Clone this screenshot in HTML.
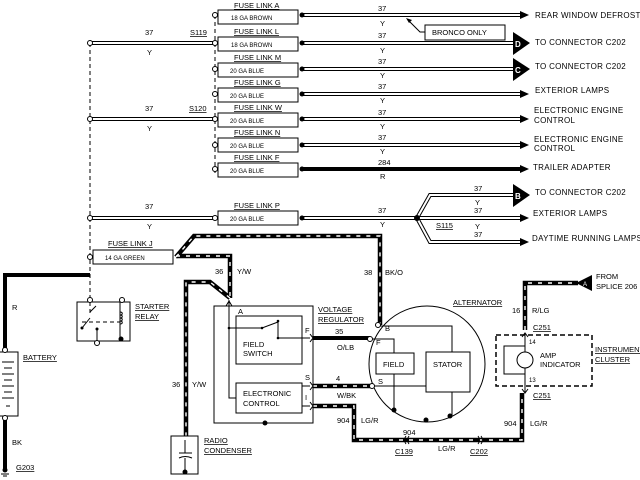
<!DOCTYPE html>
<html><head><meta charset="utf-8"><style>
html,body{margin:0;padding:0;background:#fff}
svg{display:block}
text{font-family:"Liberation Sans",sans-serif;fill:#000}
.s{font-size:6px}.m{font-size:7.5px}.l{font-size:8px;letter-spacing:.3px}
.d{fill:none;stroke:#000;stroke-width:4}.di{fill:none;stroke:#fff;stroke-width:2}
.k{fill:none;stroke:#000;stroke-width:4.5}.kw{fill:none;stroke:#fff;stroke-width:1.4;stroke-dasharray:4 6}
.t{fill:none;stroke:#000;stroke-width:1}
.ds{fill:none;stroke:#000;stroke-width:1;stroke-dasharray:4 3}
.oc{fill:#fff;stroke:#000;stroke-width:1}
</style></head><body>
<svg width="640" height="480" viewBox="0 0 640 480" xmlns="http://www.w3.org/2000/svg">
<path class="ds" d="M215 15V176M90 43V302"/>
<g>
<path class="d" d="M90 43H215M90 119H215M90 218H215"/>
<path class="di" d="M90 43H215M90 119H215M90 218H215"/>
</g>
<text class="m" x="145" y="35">37</text><text class="m" x="147" y="55">Y</text>
<text class="m" x="190" y="35" text-decoration="underline">S119</text>
<text class="m" x="145" y="111">37</text><text class="m" x="147" y="131">Y</text>
<text class="m" x="189" y="111" text-decoration="underline">S120</text>
<text class="m" x="145" y="209">37</text><text class="m" x="147" y="229">Y</text>
<g>
<rect class="t" x="218" y="10" width="80" height="14"/><rect class="t" x="218" y="37" width="80" height="14"/>
<rect class="t" x="218" y="63" width="80" height="14"/><rect class="t" x="218" y="88" width="80" height="14"/>
<rect class="t" x="218" y="113" width="80" height="14"/><rect class="t" x="218" y="138" width="80" height="14"/>
<rect class="t" x="218" y="163" width="80" height="14"/><rect class="t" x="218" y="211" width="80" height="14"/>
<rect class="t" x="93" y="250" width="80" height="14"/>
</g>
<g class="m">
<text x="234" y="8" text-decoration="underline">FUSE LINK A</text><text x="234" y="34" text-decoration="underline">FUSE LINK L</text>
<text x="234" y="60" text-decoration="underline">FUSE LINK M</text><text x="234" y="85" text-decoration="underline">FUSE LINK G</text>
<text x="234" y="110" text-decoration="underline">FUSE LINK W</text><text x="234" y="135" text-decoration="underline">FUSE LINK N</text>
<text x="234" y="160" text-decoration="underline">FUSE LINK F</text><text x="234" y="208" text-decoration="underline">FUSE LINK P</text>
<text x="108" y="246" text-decoration="underline">FUSE LINK J</text>
</g>
<g class="s">
<text x="231" y="20">18 GA BROWN</text><text x="231" y="47">18 GA BROWN</text>
<text x="230" y="73">20 GA BLUE</text><text x="230" y="98">20 GA BLUE</text>
<text x="230" y="123">20 GA BLUE</text><text x="230" y="148">20 GA BLUE</text>
<text x="230" y="173">20 GA BLUE</text><text x="230" y="221">20 GA BLUE</text>
<text x="105" y="260">14 GA GREEN</text>
</g>
<g>
<path class="d" d="M302 15H520M302 43H515M302 69H515M302 94H520M302 119H520M302 145H520M302 218H417L430 195H515M417 218H520M417 218L430 242H520"/>
<path class="di" d="M302 15H520M302 43H515M302 69H515M302 94H520M302 119H520M302 145H520M302 218H417L430 195H515M417 218H520M417 218L430 242H520"/>
<path d="M302 169H520" stroke="#000" stroke-width="4"/>
</g>
<g fill="#000">
<circle cx="302" cy="15" r="2.5"/><circle cx="302" cy="43" r="2.5"/><circle cx="302" cy="69" r="2.5"/>
<circle cx="302" cy="94" r="2.5"/><circle cx="302" cy="119" r="2.5"/><circle cx="302" cy="145" r="2.5"/>
<circle cx="302" cy="169" r="2.5"/><circle cx="302" cy="218" r="2.5"/><circle cx="417" cy="218" r="3"/>
<path d="M520 11L529 15L520 19ZM520 90L529 94L520 98ZM520 115L529 119L520 123ZM520 141L529 145L520 149ZM520 165L529 169L520 173ZM520 214L529 218L520 222ZM520 238L529 242L520 246Z"/>
<path d="M513 32L530 43L513 55ZM513 58L530 69L513 81ZM513 184L530 195L513 207Z"/>
</g>
<g font-size="8" font-weight="bold"><text x="515" y="47" style="fill:#fff">D</text><text x="515" y="73" style="fill:#fff">C</text><text x="515" y="199" style="fill:#fff">B</text></g>
<g class="m">
<text x="378" y="11">37</text><text x="380" y="26">Y</text>
<text x="378" y="38">37</text><text x="380" y="53">Y</text>
<text x="378" y="64">37</text><text x="380" y="78">Y</text>
<text x="378" y="89">37</text><text x="380" y="103">Y</text>
<text x="378" y="115">37</text><text x="380" y="129">Y</text>
<text x="378" y="140">37</text><text x="380" y="154">Y</text>
<text x="378" y="165">284</text><text x="380" y="179">R</text>
<text x="378" y="213">37</text><text x="380" y="227">Y</text>
<text x="474" y="191">37</text><text x="475" y="205">Y</text><text x="474" y="213">37</text>
<text x="475" y="229">Y</text><text x="474" y="237">37</text>
<text x="436" y="228" text-decoration="underline">S115</text>
</g>
<rect class="t" x="425" y="25" width="80" height="15"/>
<path class="t" d="M425 32H420L408 20"/><path d="M406 18L412 20L409 23Z"/>
<text class="m" x="432" y="35">BRONCO ONLY</text>
<g class="l">
<text x="535" y="18">REAR WINDOW DEFROST</text><text x="535" y="45">TO CONNECTOR C202</text>
<text x="535" y="69">TO CONNECTOR C202</text><text x="535" y="93">EXTERIOR LAMPS</text>
<text x="534" y="113">ELECTRONIC ENGINE</text><text x="534" y="123">CONTROL</text>
<text x="534" y="142">ELECTRONIC ENGINE</text><text x="534" y="151">CONTROL</text>
<text x="533" y="170">TRAILER ADAPTER</text><text x="535" y="195">TO CONNECTOR C202</text>
<text x="533" y="216">EXTERIOR LAMPS</text><text x="532" y="241">DAYTIME RUNNING LAMPS</text>
</g>
<g class="oc">
<circle cx="90" cy="43" r="2.5"/><circle cx="215" cy="43" r="2.5"/><circle cx="90" cy="119" r="2.5"/><circle cx="215" cy="119" r="2.5"/>
<circle cx="90" cy="218" r="2.5"/><circle cx="215" cy="218" r="2.5"/><circle cx="215" cy="15" r="2.5"/><circle cx="215" cy="69" r="2.5"/>
<circle cx="215" cy="94" r="2.5"/><circle cx="215" cy="145" r="2.5"/><circle cx="215" cy="169" r="2.5"/><circle cx="90" cy="257" r="2.5"/>
</g>
<g>
<path class="k" d="M176 257L194 236H380V325M176 256H230V298M230 298L210 282H186V436M313 386H372M313 406H354V440H522V393M525 330V283H578"/>
<path class="kw" d="M176 257L194 236H380V325M176 256H230V298M230 298L210 282H186V436M313 386H372M313 406H354V440H522V393M525 330V283H578"/>
<path d="M313 338H370" stroke="#000" stroke-width="4"/>
<path d="M5 350V275H90M5 418V470" stroke="#000" stroke-width="4" fill="none"/>
</g>
<text class="m" x="215" y="274">36</text><text class="m" x="237" y="274">Y/W</text>
<text class="m" x="172" y="387">36</text><text class="m" x="192" y="387">Y/W</text>
<text class="m" x="364" y="275">38</text><text class="m" x="385" y="275">BK/O</text>
<text class="m" x="12" y="310">R</text><text class="m" x="12" y="445">BK</text>
<text class="m" x="16" y="470" text-decoration="underline">G203</text>
<rect class="t" x="-2" y="352" width="20" height="64"/>
<path class="t" d="M2 362H14M4 368H12M2 374H14M4 380H12M2 386H14M4 392H12M2 398H14M6 406H10"/>
<circle class="oc" cx="5" cy="350" r="2.5"/><circle class="oc" cx="5" cy="418" r="2.5"/>
<text class="m" x="23" y="360" text-decoration="underline">BATTERY</text>
<circle cx="5" cy="470" r="2.5"/><path class="t" d="M1 474H9M3 476H7"/>
<rect class="t" x="77" y="302" width="53" height="39"/>
<path class="ds" d="M90 302V313M82 322H120"/>
<path class="t" d="M90 312L96 306M82 328L90 318M97 329V341M120 302V340"/>
<path class="t" d="M120 312c3 0 3 3 0 3c3 0 3 3 0 3c3 0 3 3 0 3c3 0 3 3 0 3"/>
<circle class="oc" cx="90" cy="300" r="2.5"/><circle class="oc" cx="122" cy="300" r="2.5"/><circle class="oc" cx="97" cy="343" r="2.5"/>
<circle cx="121" cy="339" r="2.5"/><circle cx="97" cy="329" r="1.5"/><circle cx="82" cy="328" r="1.5"/>
<text class="m" x="135" y="309" text-decoration="underline">STARTER</text><text class="m" x="135" y="319" text-decoration="underline">RELAY</text>
<rect class="t" x="171" y="436" width="27" height="38"/>
<path class="t" d="M185 440V453M179 453H192M179 458Q185 455 192 458M185 458V472"/>
<circle cx="185" cy="472" r="2.5"/>
<text class="m" x="204" y="443" text-decoration="underline">RADIO</text><text class="m" x="204" y="453" text-decoration="underline">CONDENSER</text>
<rect class="t" x="214" y="306" width="99" height="117"/>
<rect class="t" x="236" y="316" width="66" height="48"/>
<rect class="t" x="236" y="383" width="66" height="30"/>
<path class="t" d="M229 300V398H236M229 328H262L278 322M278 322V336M278 338H310M310 334l3 4l-3 4M302 386H310M310 382l3 4l-3 4M302 406H310M310 402l3 4l-3 4M226 306l3 -5l3 5"/>
<path class="ds" d="M278 322V338"/>
<circle cx="229" cy="328" r="1.3"/><circle cx="262" cy="328" r="1.3"/><circle cx="278" cy="321" r="1.3"/><circle cx="278" cy="338" r="1.3"/>
<circle cx="265" cy="423" r="2.5"/>
<text class="m" x="238" y="314">A</text><text class="m" x="305" y="333">F</text><text class="m" x="305" y="380">S</text><text class="m" x="305" y="400">I</text>
<text class="m" x="243" y="347">FIELD</text><text class="m" x="243" y="356">SWITCH</text>
<text class="m" x="243" y="396">ELECTRONIC</text><text class="m" x="243" y="406">CONTROL</text>
<text class="m" x="318" y="312" text-decoration="underline">VOLTAGE</text><text class="m" x="318" y="322" text-decoration="underline">REGULATOR</text>
<text class="m" x="335" y="334">35</text><text class="m" x="337" y="350">O/LB</text>
<text class="m" x="336" y="381">4</text><text class="m" x="337" y="398">W/BK</text>
<text class="m" x="337" y="423">904</text><text class="m" x="361" y="423">LG/R</text>
<circle class="t" cx="427" cy="364" r="58"/>
<rect class="t" x="376" y="353" width="38" height="21"/><rect class="t" x="426" y="352" width="44" height="40"/>
<path class="t" d="M378 326H452V352M372 339H394V353M372 386H426M394 374V410M452 392V416"/>
<circle cx="394" cy="410" r="2.5"/><circle cx="450" cy="416" r="2.5"/><circle cx="426" cy="420" r="2.5"/>
<circle class="oc" cx="378" cy="325" r="2.5"/><circle class="oc" cx="370" cy="339" r="2.5"/><circle class="oc" cx="372" cy="386" r="2.5"/>
<text class="m" x="385" y="331">B</text><text class="m" x="376" y="345">F</text><text class="m" x="378" y="384">S</text>
<text class="m" x="383" y="367">FIELD</text><text class="m" x="433" y="367">STATOR</text>
<text class="m" x="453" y="305" text-decoration="underline">ALTERNATOR</text>
<text class="m" x="403" y="435">904</text><text class="m" x="438" y="451">LG/R</text>
<text class="m" x="395" y="454" text-decoration="underline">C139</text><text class="m" x="470" y="454" text-decoration="underline">C202</text>
<text class="m" x="504" y="426">904</text><text class="m" x="530" y="426">LG/R</text>
<rect x="496" y="335" width="96" height="51" fill="none" stroke="#000" stroke-width="1.5" stroke-dasharray="5 3"/>
<path class="t" d="M525 333V393M522 337l3 -4l3 4M522 389l3 4l3 -4M525 346H504V374H525"/>
<circle class="oc" cx="525" cy="360" r="8"/>
<text class="m" x="540" y="358">AMP</text><text class="m" x="540" y="367">INDICATOR</text>
<text class="s" x="529" y="344">14</text><text class="s" x="529" y="382">13</text>
<text class="m" x="533" y="330" text-decoration="underline">C251</text><text class="m" x="533" y="398" text-decoration="underline">C251</text>
<text class="m" x="595" y="352" text-decoration="underline">INSTRUMENT</text><text class="m" x="595" y="362" text-decoration="underline">CLUSTER</text>
<text class="m" x="512" y="313">16</text><text class="m" x="532" y="313">R/LG</text>
<path d="M576 283L592 275V291Z"/><text x="583" y="286" font-size="6" style="fill:#fff">A</text>
<text class="m" x="596" y="279">FROM</text><text class="m" x="596" y="289">SPLICE 206</text>
<path class="t" d="M406 436q-3 4 0 8M409 436q-3 4 0 8M478 436q3 4 0 8M481 436q3 4 0 8"/>
</svg>
</body></html>
